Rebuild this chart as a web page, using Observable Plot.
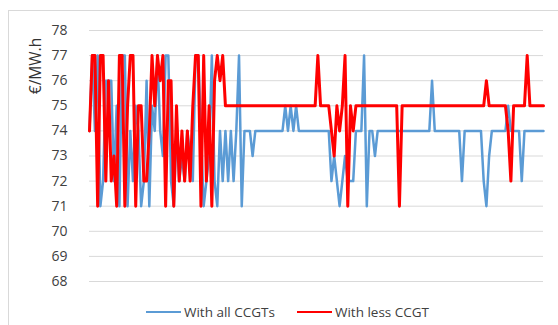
<!DOCTYPE html>
<html><head><meta charset="utf-8">
<script src="https://cdn.jsdelivr.net/npm/d3@7"></script>
<script src="https://cdn.jsdelivr.net/npm/@observablehq/plot@0.6"></script>
<style>
body{margin:0;background:#fff;font-family:"Open Sans",sans-serif;}
#wrap{position:relative;width:558px;height:325px;overflow:hidden;background:#fff;}
#frame{position:absolute;left:8px;top:10px;width:600px;height:400px;border:1px solid #d9d9d9;}
#chart{position:absolute;left:0;top:0;}
#ylabel{position:absolute;left:35px;top:66px;transform:translate(-50%,-50%) rotate(-90deg);font-size:15.5px;color:#333;white-space:nowrap;}
#legend{position:absolute;left:0;top:303px;width:575px;display:flex;justify-content:center;align-items:center;font-size:13.5px;color:#404040;white-space:nowrap;}
.item{display:flex;align-items:center;margin:0 11px;}
.sw{width:35px;height:2.5px;margin-right:3px;}
</style>
</head><body>
<div id="wrap">
  <div id="frame"></div>
  <div id="chart"></div>
  <div id="ylabel">€/MW.h</div>
  <div id="legend"></div>
</div>
<script>
const seriesNames = ["With all CCGTs", "With less CCGT"];
const seriesColors = ["#5b9bd5", "#ff0000"];
const yTicks = [68,69,70,71,72,73,74,75,76,77,78];

const blueValues = [
  74,77,74,77,71,72,76,76,76,72,
  75,71,77,77,71,74,72,75,74,71,
  72,76,71,75,74,77,74,73,77,77,
  72,71,74,72,73,72,74,73,72,77,
  77,74,71,72,73,77,72,71,74,72,
  74,72,74,72,74,77,71,74,74,74,
  73,74,74,74,74,74,74,74,74,74,
  74,74,75,74,75,74,75,74,74,74,
  74,74,74,74,74,74,74,74,74,72,
  73,72,71,72,73,72,72,72,74,74,
  74,77,71,74,74,73,74,74,74,74,
  74,74,74,74,74,74,74,74,74,74,
  74,74,74,74,74,74,76,74,74,74,
  74,74,74,74,74,74,74,72,74,74,
  74,74,74,74,74,72,71,73,74,74,
  74,74,74,74,75,74,74,74,74,72,
  74,74,74,74,74,74,74,74
];

const redValues = [
  74,77,77,71,77,77,72,76,72,73,
  71,77,77,71,75,77,77,71,75,75,
  72,72,74,77,75,77,76,77,71,76,
  76,71,75,72,74,72,74,72,75,77,
  77,71,77,72,75,71,76,77,76,77,
  75,75,75,75,75,75,75,75,75,75,
  75,75,75,75,75,75,75,75,75,75,
  75,75,75,75,75,75,75,75,75,75,
  75,75,75,75,77,75,75,75,75,74,
  73,75,74,75,77,71,75,74,75,75,
  75,75,75,75,75,75,75,75,75,75,
  75,75,75,75,71,75,75,75,75,75,
  75,75,75,75,75,75,75,75,75,75,
  75,75,75,75,75,75,75,75,75,75,
  75,75,75,75,75,75,76,75,75,75,
  75,75,75,75,74,72,75,75,75,75,
  75,77,75,75,75,75,75,75
];

const n = blueValues.length;

const chart = Plot.plot({
  width: 558,
  height: 300,
  marginLeft: 89,
  marginRight: 15,
  marginTop: 30,
  marginBottom: 19,
  style: {fontFamily: "'Open Sans', sans-serif", fontSize: "14px", color: "#404040", background: "transparent"},
  x: {domain: [0, n - 1], axis: null},
  y: {domain: [68, 78], axis: null},
  marks: [
    Plot.gridY(yTicks, {stroke: "#d9d9d9", strokeOpacity: 1, strokeWidth: 1}),
    Plot.axisY(yTicks, {tickSize: 0, tickPadding: 22, label: null, fontSize: 14}),
    Plot.line(blueValues, {x: (d, i) => i, y: d => d, stroke: seriesColors[0], strokeWidth: 2.5, strokeLinejoin: "round"}),
    Plot.line(redValues, {x: (d, i) => i, y: d => d, stroke: seriesColors[1], strokeWidth: 3, strokeLinejoin: "round"})
  ]
});
document.getElementById("chart").appendChild(chart);

const legend = document.getElementById("legend");
seriesNames.forEach((name, k) => {
  const item = document.createElement("div");
  item.className = "item";
  const sw = document.createElement("div");
  sw.className = "sw";
  sw.style.background = seriesColors[k];
  const t = document.createElement("span");
  t.textContent = name;
  item.appendChild(sw);
  item.appendChild(t);
  legend.appendChild(item);
});
</script>
</body></html>
